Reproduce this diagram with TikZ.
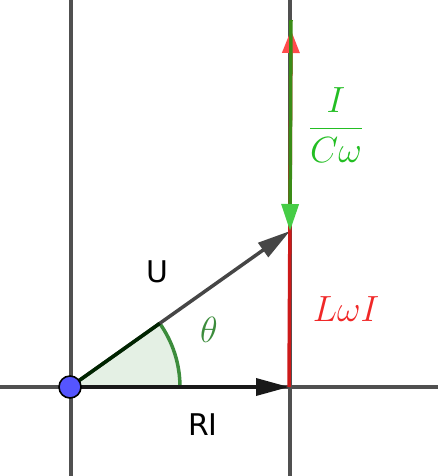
\documentclass[tikz,border=0pt]{standalone}
\usepackage{fontspec}
\setsansfont{DejaVu Sans}
\usetikzlibrary{arrows.meta,angles,calc}

\definecolor{gridgray}{RGB}{80,80,80}
\definecolor{vecgray}{RGB}{70,70,70}
\definecolor{redline}{RGB}{205,25,25}
\definecolor{redhead}{RGB}{255,75,75}
\definecolor{redtext}{RGB}{240,40,40}
\definecolor{greenline}{RGB}{58,140,22}
\definecolor{greenhead}{RGB}{70,205,70}
\definecolor{greentext}{RGB}{35,190,35}
\definecolor{anglegreen}{RGB}{60,140,60}
\definecolor{anglefill}{RGB}{228,240,228}
\definecolor{dotblue}{RGB}{85,85,255}

\begin{document}
\begin{tikzpicture}[
		x=0.02cm, y=-0.02cm,
		gridline/.style = {draw=gridgray, line width=0.07cm},
		vector/.style   = {line width=0.07cm, -{Triangle[length=0.66cm, width=0.34cm]}},
		mathlabel/.style = {font=\fontsize{20}{24}\selectfont, inner sep=0pt},
		textlabel/.style = {font=\sffamily\fontsize{17}{20}\selectfont, inner sep=0pt}]
		
		\useasboundingbox (0,0) rectangle (438,476);
		
		% the grid lines
		\foreach \gx in {71,290}
		\draw[gridline] (\gx,0) -- (\gx,476);
		\draw[gridline] (0,387) -- (438,387);
		
		% points of the diagram
		\coordinate (O) at (70,387);
		\coordinate (A) at (289,387);
		\coordinate (B) at (290,231);
		\coordinate (T) at (291,20);
		\coordinate (Ttip) at (291,30);
		
		% the angle between RI and U
		\pic[draw=anglegreen, fill=anglefill, line width=0.07cm, angle radius=2.2cm] {angle = A--O--B};
		
		% the vectors
		\draw[vector, vecgray] (O) -- (B);
		\draw[line width=0.07cm, black!80!green!70!black] (O) -- ($(O)!2.2cm!(B)$);
		\draw[vector, black!90] (O) -- (A);
		\draw[line width=0.07cm, redline, -{Triangle[length=0.46cm, width=0.34cm, color=redhead, fill=redhead]}] (A) -- (Ttip);
		\draw[line width=0.07cm, greenline, -{Triangle[length=0.54cm, width=0.34cm, color=greenhead, fill=greenhead]}] (T) -- (B);
		
		% the origin point
		\node[circle, draw=black, fill=dotblue, minimum size=0.44cm, inner sep=0pt, line width=0.9pt] (dot) at (O) {};
		
		% labels
		\node[textlabel] (lU) at (157,272) {U};
		\node[textlabel] (lRI) at (203,425) {RI};
		\node[mathlabel, text=anglegreen] (ltheta) at (209,330) {$\theta$};
		\node[mathlabel, text=redtext] (lL) at (346,309) {$L\omega I$};
		\node[mathlabel, text=greentext] (lC) at (336,125) {$\displaystyle\frac{I}{C\omega}$};
		
	\end{tikzpicture}
\end{document}
